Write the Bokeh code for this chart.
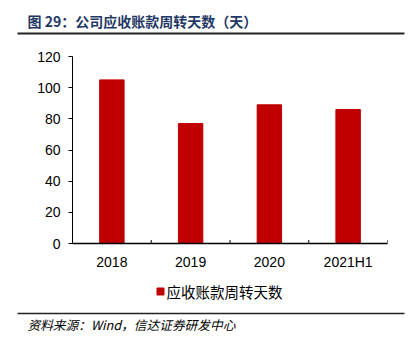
from bokeh.plotting import figure
from bokeh.models import ColumnDataSource, FactorRange, Range1d, FixedTicker
from bokeh.core.properties import value
from bokeh.transform import dodge
from bokeh.layouts import column
from bokeh.embed import file_html
from bokeh.resources import INLINE

categories = ["2018", "2019", "2020", "2021H1"]
values = [105, 77, 89, 86]
series_name = "应收账款周转天数"
y_ticks = [0, 20, 40, 60, 80, 100, 120]
title_text = "图 29：公司应收账款周转天数（天）"
source_text = "资料来源：Wind，信达证券研发中心"

RED = "#C00000"
NAVY = "#1F3864"
W = 416


def blank(h):
    f = figure(width=W, height=h, x_range=Range1d(0, W), y_range=Range1d(0, h),
               x_axis_type=None, y_axis_type=None, output_backend="svg",
               toolbar_location=None, min_border=0, frame_align=False)
    f.outline_line_color = None
    f.xgrid.grid_line_color = None
    f.ygrid.grid_line_color = None
    f.border_fill_color = "white"
    f.background_fill_color = "white"
    return f


# ---- top: title + rule
TOP_H = 40
top = blank(TOP_H)
top.text(x=[27], y=[TOP_H - 20], text=[title_text], text_font=value("Noto Sans CJK SC"),
         text_font_size="14px", text_font_style="bold", text_color=NAVY,
         text_baseline="middle", text_align="left")
top.segment(x0=[17], y0=[TOP_H - 33], x1=[404], y1=[TOP_H - 33], line_color="#222222",
            line_width=2)

# ---- main chart
src = ColumnDataSource(dict(cat=categories, val=values,
                            y0=[0] * len(categories), y1=[2.2] * len(categories)))

p = figure(width=W, height=238, x_range=FactorRange(*categories, range_padding=0),
           y_range=Range1d(0, 120), output_backend="svg", toolbar_location=None,
           min_border_left=72, min_border_right=29, min_border_top=16, min_border_bottom=35,
           frame_align=False)
p.outline_line_color = None
p.xgrid.grid_line_color = None
p.ygrid.grid_line_color = None
p.background_fill_color = "white"
p.border_fill_color = "white"

bars = p.vbar(x="cat", top="val", width=0.31, source=src, fill_color=RED, line_color=RED)

p.yaxis.ticker = FixedTicker(ticks=y_ticks)
p.yaxis.axis_line_color = "black"
p.yaxis.major_tick_line_color = "black"
p.yaxis.major_tick_out = 4
p.yaxis.major_tick_in = 0
p.yaxis.minor_tick_line_color = None
p.yaxis.major_label_text_font = "Liberation Sans"
p.yaxis.major_label_text_font_size = "14px"
p.yaxis.major_label_text_color = "black"
p.yaxis.major_label_standoff = 8

p.xaxis.axis_line_color = "black"
p.xaxis.axis_line_width = 1.5
p.xaxis.major_tick_line_color = None
p.xaxis.major_label_text_font = "Liberation Sans"
p.xaxis.major_label_text_font_size = "14px"
p.xaxis.major_label_text_color = "black"
p.xaxis.major_label_standoff = 4

# boundary ticks on x axis (right edge of each category)
p.segment(x0=dodge("cat", 0.5, range=p.x_range), y0="y0",
          x1=dodge("cat", 0.5, range=p.x_range), y1="y1",
          source=src, line_color="black", line_width=1)

# ---- bottom: legend, rule, source
BOT_H = 71
bot = blank(BOT_H)
bot.rect(x=[160], y=[BOT_H - 13], width=7, height=7, fill_color=RED, line_color=RED)
bot.text(x=[166], y=[BOT_H - 13], text=[series_name], text_font=value("Noto Sans CJK SC"),
         text_font_size="14.5px", text_color="black", text_baseline="middle",
         text_align="left")
bot.segment(x0=[17], y0=[BOT_H - 35], x1=[404], y1=[BOT_H - 35], line_color="#222222",
            line_width=1.5)
bot.text(x=[27], y=[BOT_H - 46], text=[source_text], text_font=value("Noto Sans CJK SC"),
         text_font_size="12.7px", text_font_style="italic", text_color="black",
         text_baseline="middle", text_align="left")

layout = column(top, p, bot, spacing=0)
open("out.html", "w").write(file_html(layout, INLINE))
